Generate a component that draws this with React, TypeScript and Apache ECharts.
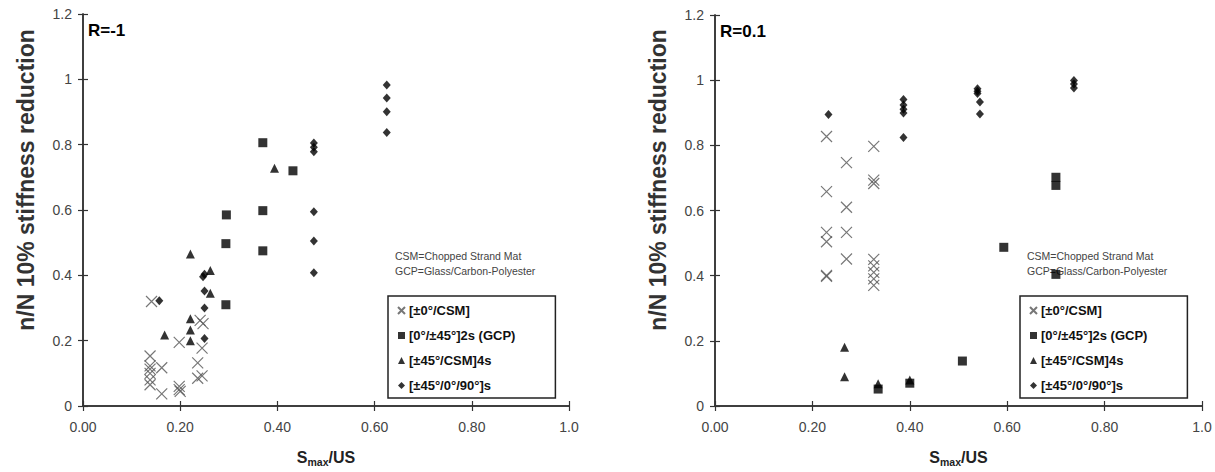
import React, { useEffect, useRef } from "react";
import * as echarts from "echarts";

const seriesNames = ["[±0°/CSM]", "[0°/±45°]2s (GCP)", "[±45°/CSM]4s", "[±45°/0°/90°]s"];
const xTicks = [0, 0.2, 0.4, 0.6, 0.8, 1.0];
const yTicks = [0, 0.2, 0.4, 0.6, 0.8, 1.0, 1.2];
const panelTitles = ["R=-1", "R=0.1"];
const noteLines = ["CSM=Chopped Strand Mat", "GCP=Glass/Carbon-Polyester"];
const yAxisTitle = "n/N 10% stiffness reduction";

// R = -1
const leftCSM: number[][] = [
  [0.141, 0.32], [0.241, 0.262], [0.247, 0.252], [0.198, 0.195], [0.245, 0.177],
  [0.138, 0.153], [0.236, 0.132], [0.138, 0.123], [0.138, 0.113], [0.162, 0.117],
  [0.138, 0.1], [0.138, 0.08], [0.138, 0.065], [0.236, 0.085], [0.245, 0.092],
  [0.198, 0.06], [0.198, 0.05], [0.2, 0.045], [0.162, 0.037],
];
const leftGCP: number[][] = [
  [0.37, 0.806], [0.432, 0.72], [0.295, 0.585], [0.37, 0.598], [0.294, 0.497],
  [0.37, 0.475], [0.294, 0.31],
];
const leftTri: number[][] = [
  [0.394, 0.728], [0.221, 0.465], [0.262, 0.415], [0.262, 0.345], [0.221, 0.267],
  [0.221, 0.233], [0.168, 0.217], [0.221, 0.2],
];
const leftDia: number[][] = [
  [0.625, 0.983], [0.625, 0.943], [0.625, 0.901], [0.625, 0.837], [0.475, 0.805],
  [0.475, 0.792], [0.475, 0.778], [0.475, 0.595], [0.475, 0.505], [0.475, 0.408],
  [0.25, 0.403], [0.247, 0.396], [0.25, 0.352], [0.157, 0.322], [0.25, 0.3], [0.25, 0.207],
];

// R = 0.1
const rightCSM: number[][] = [
  [0.229, 0.827], [0.229, 0.658], [0.229, 0.533], [0.229, 0.504], [0.229, 0.401],
  [0.229, 0.398], [0.27, 0.747], [0.27, 0.61], [0.27, 0.533], [0.27, 0.451],
  [0.326, 0.797], [0.326, 0.693], [0.326, 0.683], [0.326, 0.45], [0.326, 0.43],
  [0.326, 0.41], [0.326, 0.39], [0.326, 0.37],
];
const rightGCP: number[][] = [
  [0.335, 0.052], [0.4, 0.07], [0.508, 0.138], [0.593, 0.487], [0.7, 0.702],
  [0.7, 0.677], [0.7, 0.404],
];
const rightTri: number[][] = [
  [0.266, 0.18], [0.266, 0.09], [0.335, 0.068], [0.4, 0.08],
];
const rightDia: number[][] = [
  [0.233, 0.895], [0.387, 0.941], [0.387, 0.924], [0.387, 0.911], [0.387, 0.899],
  [0.387, 0.824], [0.539, 0.974], [0.539, 0.966], [0.539, 0.959], [0.544, 0.933],
  [0.544, 0.896], [0.737, 0.999], [0.737, 0.988], [0.737, 0.976],
];

const CROSS = "path://M0,0L10,10M10,0L0,10";
const FONT = "Liberation Sans, Arial";

export default function App() {
  const ref = useRef<HTMLDivElement>(null);
  useEffect(() => {
    if (!ref.current) return;
    const chart = echarts.init(ref.current, undefined, { renderer: "svg" });
    const grids = [
      { left: 83, top: 14, width: 486, height: 401 },
      { left: 715, top: 15, width: 487, height: 402 },
    ];
    const frame = { lineStyle: { color: "#333", width: 1.5 } };
    const tick = { show: true, inside: true, length: 5, lineStyle: { color: "#333", width: 1.2 } };
    const labelStyle = { color: "#444", fontSize: 14, fontFamily: FONT };
    const xAxes: any[] = [];
    const yAxes: any[] = [];
    [0, 1].forEach((g) => {
      xAxes.push({
        type: "value", gridIndex: g, min: xTicks[0], max: xTicks[xTicks.length - 1], interval: 0.2,
        position: "bottom", axisLine: { show: true, ...frame }, axisTick: tick, splitLine: { show: false },
        axisLabel: {
          ...labelStyle, margin: 14,
          formatter: (v: number) => (Math.abs(v - 1) < 1e-9 ? "1.0" : v.toFixed(2)),
        },
        name: "{a|S}{b|max}{a|/US}", nameLocation: "middle", nameGap: 41,
        nameTextStyle: {
          rich: {
            a: { fontSize: 16, fontWeight: "bold", color: "#222", fontFamily: FONT },
            b: { fontSize: 10.5, fontWeight: "bold", color: "#222", fontFamily: FONT, padding: [9, 0, 0, 0] },
          },
        },
      });
      xAxes.push({
        type: "value", gridIndex: g, min: 0, max: 1, interval: 0.2, position: "top",
        axisLine: { show: true, ...frame }, axisTick: tick, axisLabel: { show: false }, splitLine: { show: false },
      });
      yAxes.push({
        type: "value", gridIndex: g, min: yTicks[0], max: yTicks[yTicks.length - 1], interval: 0.2,
        position: "left", axisLine: { show: true, ...frame }, axisTick: tick, splitLine: { show: false },
        axisLabel: {
          ...labelStyle, margin: 11,
          formatter: (v: number) => String(Math.round(v * 10) / 10),
        },
      });
      yAxes.push({
        type: "value", gridIndex: g, min: 0, max: 1.2, interval: 0.2, position: "right",
        axisLine: { show: true, ...frame }, axisTick: tick, axisLabel: { show: false }, splitLine: { show: false },
      });
    });

    const mk = (g: number, idx: number, data: number[][]) => {
      const base: any = {
        type: "scatter", name: seriesNames[idx], xAxisIndex: g * 2, yAxisIndex: g * 2, data,
        silent: true,
      };
      if (idx === 0) {
        base.symbol = CROSS; base.symbolSize = 11;
        base.itemStyle = { color: "transparent", borderColor: "#555", borderWidth: 1.2 };
      } else if (idx === 1) {
        base.symbol = "rect"; base.symbolSize = 9; base.itemStyle = { color: "#000" };
      } else if (idx === 2) {
        base.symbol = "triangle"; base.symbolSize = 9; base.itemStyle = { color: "#000" };
      } else {
        base.symbol = "diamond"; base.symbolSize = [8, 9]; base.itemStyle = { color: "#000" };
      }
      return base;
    };

    const legendBase = (left: number) => ({
      orient: "vertical", left, top: 296, data: seriesNames,
      borderColor: "#222", borderWidth: 1.5, padding: [8, 40, 6, 9], itemGap: 12,
      itemWidth: 7, itemHeight: 7, selectedMode: false,
      textStyle: { fontSize: 13, fontWeight: "bold", color: "#111", fontFamily: FONT, padding: [0, 0, 0, -1] },
    });

    const graphics: any[] = [];
    [0, 1].forEach((g) => {
      const gx = grids[g].left;
      graphics.push({
        type: "text", left: gx + 5, top: grids[g].top + 8,
        style: { text: panelTitles[g], fontSize: 17, fontWeight: "bold", fill: "#000", fontFamily: FONT },
      });
      graphics.push({
        type: "text", x: gx - 57, y: 180, rotation: Math.PI / 2,
        style: {
          text: yAxisTitle, fontSize: 23, fontWeight: "bold", fill: "#333", fontFamily: FONT,
          align: "center", verticalAlign: "middle",
        },
      });
      noteLines.forEach((t, i) => {
        graphics.push({
          type: "text", left: gx + 312, top: 250 + i * 15,
          style: { text: t, fontSize: 10.5, fill: "#444", fontFamily: FONT },
        });
      });
    });

    chart.setOption({
      animation: false,
      backgroundColor: "#fff",
      grid: grids,
      xAxis: xAxes,
      yAxis: yAxes,
      legend: [legendBase(388), legendBase(1020)],
      graphic: graphics,
      series: [
        mk(0, 0, leftCSM), mk(0, 1, leftGCP), mk(0, 2, leftTri), mk(0, 3, leftDia),
        mk(1, 0, rightCSM), mk(1, 1, rightGCP), mk(1, 2, rightTri), mk(1, 3, rightDia),
      ],
    });
    return () => chart.dispose();
  }, []);
  return <div ref={ref} style={{ position: "fixed", left: 0, top: 0, width: 1215, height: 472 }} />;
}
